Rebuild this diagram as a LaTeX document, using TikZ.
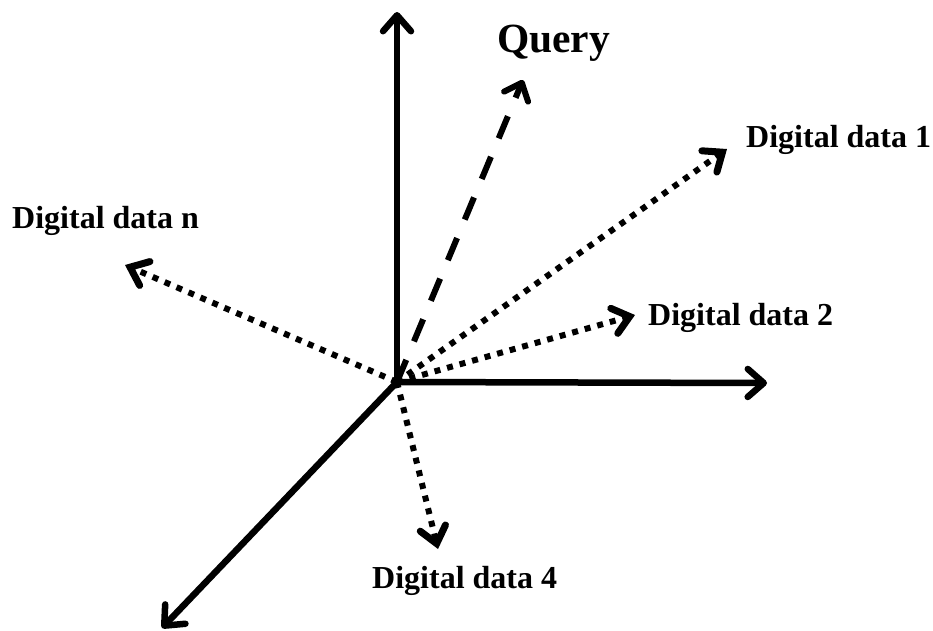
\documentclass[tikz,border=0pt]{standalone}
\usepackage{fontspec}
\setmainfont{Liberation Serif}
\usetikzlibrary{arrows.meta}

\tikzset{
  axis/.style={line width=6.5pt, -{Straight Barb[length=16pt,width=28pt,line cap=round,line join=round]}},
  datavec/.style={line width=6pt, dash pattern=on 6pt off 7pt,
    -{Straight Barb[length=16pt,width=26pt,line width=7pt,line cap=round,line join=miter]}},
  queryvec/.style={line width=6pt, dash pattern=on 24pt off 20pt,
    -{Straight Barb[length=15pt,width=26pt,line cap=round,line join=round]}},
  lbl/.style={anchor=base west, inner sep=0pt, font=\bfseries\fontsize{32}{36}\selectfont},
}

\begin{document}
\begin{tikzpicture}[x=1pt,y=-1pt]
  \useasboundingbox (0,0) rectangle (933,630);

  % origin and vector end points
  \coordinate (O) at (397,382);
  \coordinate (zax) at (397,12);
  \coordinate (xax) at (767,383);
  \coordinate (yax) at (162,628);
  \coordinate (q) at (523,80);
  \coordinate (d1) at (727,149);
  \coordinate (d2) at (635,315);
  \coordinate (dn) at (125,265);
  \coordinate (d4) at (438,549);

  % coordinate axes
  \draw[axis] (O) -- (zax);
  \draw[axis] (O) -- (xax);
  \draw[axis] (O) -- (yax);

  % query and document vectors
  \draw[queryvec] (O) -- (q);
  \draw[datavec] (O) -- (d1);
  \draw[datavec] (O) -- (d2);
  \draw[datavec] (O) -- (dn);
  \draw[datavec] (O) -- (d4);

  % labels
  \node[anchor=base west, inner sep=0pt, font=\bfseries\fontsize{41.5}{46}\selectfont] (lq) at (497,52) {Query};
  \node[lbl] (l1) at (746,147) {Digital data 1};
  \node[lbl] (l2) at (648,325) {Digital data 2};
  \node[lbl] (ln) at (12,228) {Digital data n};
  \node[lbl] (l4) at (372,588) {Digital data 4};
\end{tikzpicture}
\end{document}
